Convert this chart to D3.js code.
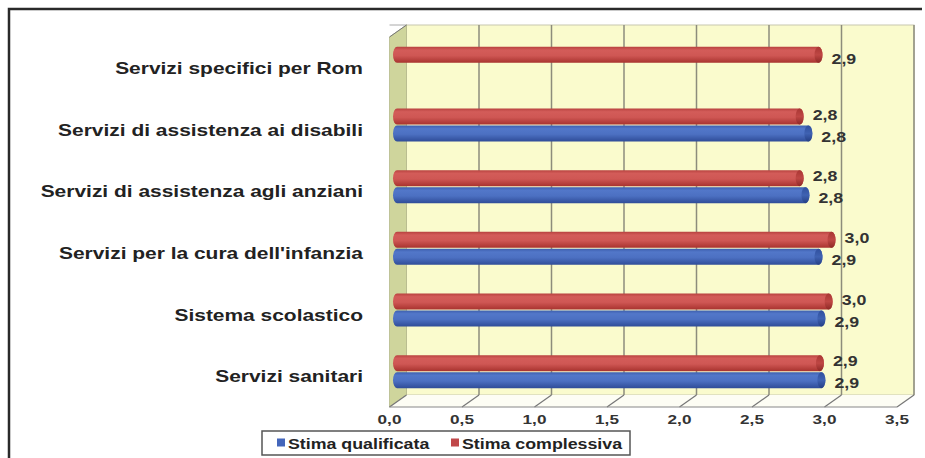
<!DOCTYPE html>
<html>
<head>
<meta charset="utf-8">
<script src="https://cdn.jsdelivr.net/npm/d3@7"></script>
<style>
  html, body { margin: 0; padding: 0; background: #fff; }
  svg { display: block; font-family: "Liberation Sans", Arial, sans-serif; }
</style>
</head>
<body>
<svg id="main-svg"></svg>
<script>
// data
var categories = [
  "Servizi specifici per Rom",
  "Servizi di assistenza ai disabili",
  "Servizi di assistenza agli anziani",
  "Servizi per la cura dell'infanzia",
  "Sistema scolastico",
  "Servizi sanitari"
];
var stimaComplessiva = [2.9, 2.77, 2.77, 2.99, 2.97, 2.91];
var stimaQualificata = [null, 2.83, 2.81, 2.9, 2.92, 2.92];
var xTicks = [0, 0.5, 1, 1.5, 2, 2.5, 3, 3.5];
var seriesNames = ["Stima qualificata", "Stima complessiva"];

var width = 925,
  height = 458,
  depthX = 17,
  depthY = -12,
  barH = 16,
  stretch = 1.27; // the original text is drawn wider than normal

var svg = d3.select("#main-svg").attr("width", width).attr("height", height);

var x = d3.scaleLinear().domain([0, 3.5]).range([389.5, 897]);
var y = d3.scaleBand().domain(categories).range([37, 407]);

var fmt = function (v) { return v.toFixed(1).replace(".", ","); };
var place = function (px, py) { return "translate(" + px + "," + py + ") scale(" + stretch + ",1)"; };

// gradients for the cylinders
var defs = svg.append("defs");
function grad(id, stops) {
  var g = defs.append("linearGradient").attr("id", id)
    .attr("x1", 0).attr("y1", 0).attr("x2", 0).attr("y2", 1);
  stops.forEach(function (s) {
    g.append("stop").attr("offset", s[0]).attr("stop-color", s[1]);
  });
}
grad("gRed", [[0, "#b8423f"], [0.2, "#d35c59"], [0.55, "#cf5754"], [1, "#a8332f"]]);
grad("gBlue", [[0, "#3d5fae"], [0.2, "#5277c9"], [0.55, "#4c70c2"], [1, "#2f4c98"]]);
grad("gRedCap", [[0, "#a93734"], [0.5, "#bf4744"], [1, "#8e2926"]]);
grad("gBlueCap", [[0, "#30509e"], [0.5, "#3f62b2"], [1, "#253f85"]]);

// outer frame (left + top visible)
svg.append("path")
  .attr("d", "M9,460 L9,9 L922,9")
  .attr("fill", "none").attr("stroke", "#2a2a2a").attr("stroke-width", 2.5);

var x0 = x(0), x1 = x(3.5), yTop = 37, yBot = 407;

// back wall
svg.append("rect")
  .attr("x", x0 + depthX).attr("y", yTop + depthY)
  .attr("width", x1 - x0).attr("height", yBot - yTop)
  .attr("fill", "#fafbcd").attr("stroke", "#c8c8b0").attr("stroke-width", 1);

// side wall
svg.append("path")
  .attr("d", "M" + x0 + "," + yTop + " L" + (x0 + depthX) + "," + (yTop + depthY) +
    " L" + (x0 + depthX) + "," + (yBot + depthY) + " L" + x0 + "," + yBot + "Z")
  .attr("fill", "#cfd59c").attr("stroke", "#b5b98a").attr("stroke-width", 0.8);

// floor
svg.append("path")
  .attr("d", "M" + x0 + "," + yBot + " L" + (x0 + depthX) + "," + (yBot + depthY) +
    " L" + (x1 + depthX) + "," + (yBot + depthY) + " L" + x1 + "," + yBot + "Z")
  .attr("fill", "#fdfdf4");

// top edge line at back
svg.append("line")
  .attr("x1", x0).attr("x2", x0 + depthX).attr("y1", yTop + depthY).attr("y2", yTop + depthY)
  .attr("stroke", "#aaa").attr("stroke-width", 1);
svg.append("line")
  .attr("x1", x0).attr("y1", yTop).attr("x2", x0 + depthX).attr("y2", yTop + depthY)
  .attr("stroke", "#777").attr("stroke-width", 1);

// grid lines on back wall and floor
var grid = svg.append("g");
grid.selectAll("line.v").data(xTicks.slice(1)).enter().append("line")
  .attr("class", "v")
  .attr("x1", function (d) { return x(d) + depthX; })
  .attr("x2", function (d) { return x(d) + depthX; })
  .attr("y1", yTop + depthY).attr("y2", yBot + depthY)
  .attr("stroke", "#8c8c7c").attr("stroke-width", 1.5);
grid.selectAll("line.d").data(xTicks).enter().append("line")
  .attr("class", "d")
  .attr("x1", function (d) { return x(d); })
  .attr("x2", function (d) { return x(d) + depthX; })
  .attr("y1", yBot).attr("y2", yBot + depthY)
  .attr("stroke", "#777").attr("stroke-width", 1.2);
svg.append("line")
  .attr("x1", x0).attr("x2", x1).attr("y1", yBot).attr("y2", yBot)
  .attr("stroke", "#888").attr("stroke-width", 1.2);

// x axis tick labels
svg.append("g").selectAll("text").data(xTicks).enter().append("text")
  .attr("transform", function (d) { return place(x(d), 424); })
  .attr("text-anchor", "middle")
  .attr("font-size", 13.5).attr("font-weight", "bold").attr("fill", "#333")
  .text(function (d) { return fmt(d); });

// category labels
svg.append("g").selectAll("text").data(categories).enter().append("text")
  .attr("transform", function (d) { return place(363, y(d) + y.bandwidth() / 2 + 6); })
  .attr("text-anchor", "end")
  .attr("font-size", 16.5).attr("font-weight", "bold").attr("fill", "#222")
  .text(function (d) { return d; });

// bars (cylinders) placed at half depth
var xb = function (v) { return x(v) + depthX / 2; };
function drawSeries(values, offset, fill, cap, labelDy) {
  var items = categories.map(function (c, i) { return { c: c, v: values[i] }; })
    .filter(function (d) { return d.v != null; });
  var g = svg.append("g");
  var cy = function (d) { return y(d.c) + y.bandwidth() / 2 + depthY / 2 + 1.5 + offset; };
  g.selectAll("rect").data(items).enter().append("rect")
    .attr("x", function () { return xb(0) - 5; })
    .attr("y", function (d) { return cy(d) - barH / 2; })
    .attr("width", function (d) { return xb(d.v) - xb(0) + 9; })
    .attr("height", barH)
    .attr("rx", 4).attr("ry", barH / 2)
    .attr("fill", "url(#" + fill + ")");
  g.selectAll("ellipse").data(items).enter().append("ellipse")
    .attr("cx", function (d) { return xb(d.v); })
    .attr("cy", cy)
    .attr("rx", 4).attr("ry", barH / 2)
    .attr("fill", "url(#" + cap + ")");
  g.selectAll("text").data(items).enter().append("text")
    .attr("transform", function (d) { return place(xb(d.v) + 13, cy(d) + 5 + labelDy(d)); })
    .attr("font-size", 14).attr("font-weight", "bold").attr("fill", "#333")
    .text(function (d) { return fmt(d.v); });
}
drawSeries(stimaComplessiva, -barH / 2 - 0.5, "gRed", "gRedCap", function (d) {
  return stimaQualificata[categories.indexOf(d.c)] == null ? 4 : -2;
});
drawSeries(stimaQualificata, barH / 2 + 0.5, "gBlue", "gBlueCap", function () { return 3; });

// legend
var legend = svg.append("g");
legend.append("rect")
  .attr("x", 262).attr("y", 431).attr("width", 368).attr("height", 24)
  .attr("fill", "#fff").attr("stroke", "#555").attr("stroke-width", 1.5);
var legendColors = ["#4466bb", "#c0484a"];
var legendX = [277, 451];
seriesNames.forEach(function (name, i) {
  legend.append("rect")
    .attr("x", legendX[i]).attr("y", 438.5).attr("width", 8).attr("height", 8)
    .attr("fill", legendColors[i]);
  legend.append("text")
    .attr("transform", place(legendX[i] + 11, 448.5))
    .attr("font-size", 14).attr("font-weight", "bold").attr("fill", "#222")
    .text(name);
});
</script>
</body>
</html>
